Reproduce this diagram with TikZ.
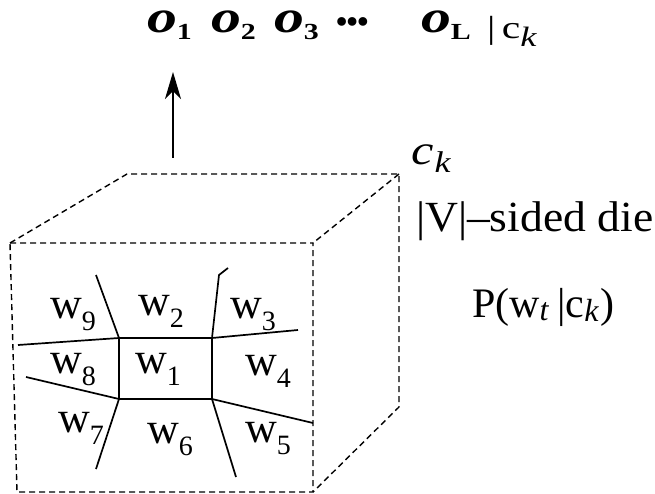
\documentclass[tikz,border=0pt]{standalone}
\usepackage{fontspec}
\setmainfont{Liberation Serif}
\usetikzlibrary{arrows.meta}
\newcommand\fs[1]{\fontsize{#1}{#1}\selectfont}
\newcommand\lowsub[3]{\raisebox{-#2pt}{\fs{#1}#3}}
\newcommand\wide[2]{\scalebox{#1}[1]{#2}}
\begin{document}
\begin{tikzpicture}[x=1pt,y=-1pt,
  lbl/.style={inner sep=0pt,outer sep=0pt,anchor=base west},
  dieedge/.style={line width=1.4pt,dash pattern=on 6pt off 4pt},
  cell/.style={line width=1.7pt},
  arr/.style={line width=1.5pt,-{Stealth[length=27pt,width=16pt,inset=8pt]}}]
\useasboundingbox (0,0) rectangle (655,494);
% top sequence
\node[lbl] (o1) at (147,33) {\wide{1.3}{\fs{46}\textbf{\textit{o}}\lowsub{23}{7}{\textbf{1}}}};
\node[lbl] (o2) at (211,33) {\wide{1.3}{\fs{46}\textbf{\textit{o}}\lowsub{23}{7}{\textbf{2}}}};
\node[lbl] (o3) at (274,33) {\wide{1.3}{\fs{46}\textbf{\textit{o}}\lowsub{23}{7}{\textbf{3}}}};
\node[lbl] (dots) at (336,33) {\fs{32}\textbf{•\kern-0.5pt•\kern-0.5pt•}};
\node[lbl] (oL) at (421,33) {\wide{1.3}{\fs{46}\textbf{\textit{o}}\lowsub{23}{7}{\textbf{L}}}};
\node[lbl] (given) at (487,39) {\wide{1.3}{\fs{32}|\kern5pt c\lowsub{28}{8}{\textit{k}}}};
% arrow
\coordinate (atail) at (173,158);
\coordinate (ahead) at (173,72);
\draw[arr] (atail) -- (ahead);
% right texts
\node[lbl] (cklabel) at (411,165) {\wide{1.2}{\fs{42}\textit{c}\lowsub{30}{8}{\kern1pt\textit{k}}}};
\node[lbl] (die) at (416,232) {\wide{1.06}{\fs{43}|V|–sided die}};
\node[lbl] (prob) at (472,317) {\fs{42}P(w\lowsub{32}{3}{\textit{t}}\kern8pt|c\lowsub{32}{4}{\textit{k}}\kern2pt)};
% cube
\draw[dieedge] (10,243) -- (313,243) -- (313,492) -- (17,492) -- cycle;
\draw[dieedge] (10,243) -- (127,174) -- (399,174) -- (399,407) -- (313,492);
\draw[dieedge] (399,174) -- (313,243);
% faces of the die
\coordinate (ia) at (119,338);
\coordinate (ib) at (212,338);
\coordinate (ic) at (212,399);
\coordinate (id) at (119,399);
\draw[cell] (ia) -- (ib) -- (ic) -- (id) -- cycle;
\draw[cell] (ia) -- (96,275);
\draw[cell] (ib) -- (219,275) -- (228,268);
\draw[cell] (ia) -- (18,345);
\draw[cell] (ib) -- (298,330);
\draw[cell] (id) -- (26,377);
\draw[cell] (ic) -- (313,423);
\draw[cell] (id) -- (96,469);
\draw[cell] (ic) -- (236,477);
% labels
\node[lbl] (w9) at (50,318) {\fs{44}w\lowsub{28}{12}{9}};
\node[lbl] (w2) at (138,315) {\fs{44}w\lowsub{28}{12}{2}};
\node[lbl] (w3) at (230,318) {\fs{44}w\lowsub{28}{12}{3}};
\node[lbl] (w8) at (50,373) {\fs{44}w\lowsub{28}{12}{8}};
\node[lbl] (w1) at (135,373) {\fs{44}w\lowsub{28}{12}{1}};
\node[lbl] (w4) at (245,375) {\fs{44}w\lowsub{28}{12}{4}};
\node[lbl] (w7) at (58,432) {\fs{44}w\lowsub{28}{12}{7}};
\node[lbl] (w6) at (147,443) {\fs{44}w\lowsub{28}{12}{6}};
\node[lbl] (w5) at (245,442) {\fs{44}w\lowsub{28}{12}{5}};
\end{tikzpicture}
\end{document}
